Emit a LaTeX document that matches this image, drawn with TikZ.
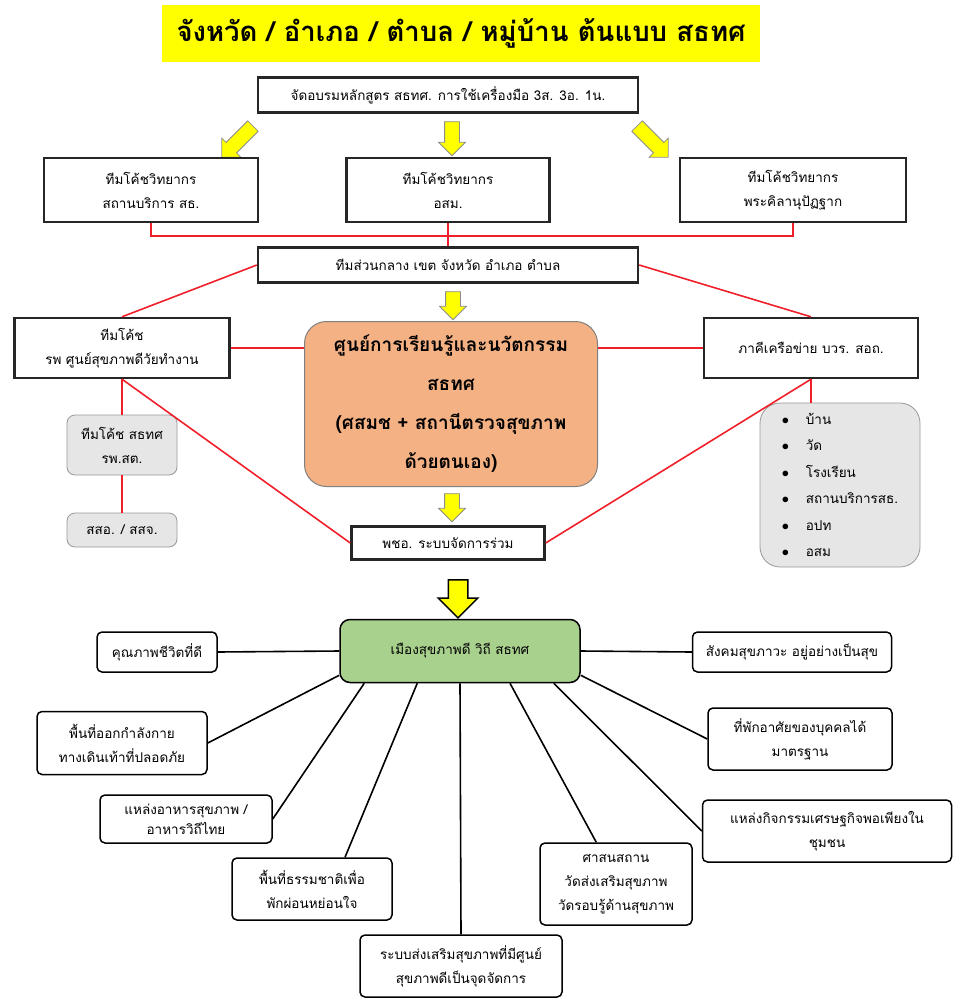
\documentclass[tikz,border=0pt]{standalone}
\usepackage{fontspec}
\setmainfont[Script=Thai]{Loma}
\usetikzlibrary{calc,shapes.arrows}

\definecolor{titleyellow}{HTML}{FFFF00}
\definecolor{centreorange}{HTML}{F4B183}
\definecolor{goalgreen}{HTML}{A9D18E}
\definecolor{softgray}{HTML}{E7E6E6}
\definecolor{linkred}{HTML}{F0202A}

\begin{document}
\begin{tikzpicture}[x=1pt,y=-1pt,
  teambox/.style={draw=black!85,line width=2.4pt,fill=white,align=center,inner sep=1pt,
    font=\fontsize{13.5}{24}\selectfont},
  softbox/.style={draw=black!40,line width=0.8pt,fill=softgray,rounded corners=8pt,
    align=center,inner sep=1pt,font=\fontsize{13.5}{24}\selectfont},
  goalbox/.style={draw=black,line width=1.5pt,fill=white,rounded corners=5pt,
    align=center,inner sep=1pt,font=\fontsize{13.5}{24}\selectfont},
  link/.style={linkred,line width=1.6pt},
  spoke/.style={black,line width=1.6pt},
  yarrow/.style={single arrow,draw=black!45,fill=titleyellow,line width=0.8pt,
    inner sep=7pt,single arrow head extend=6pt,minimum height=34pt},
]
\useasboundingbox (0,0) rectangle (961,999);

% title
\node[fill=titleyellow,minimum width=598pt,minimum height=57pt,
  font=\fontsize{27.5}{30}\selectfont\bfseries] (title) at (461,33)
  {จังหวัด / อำเภอ / ตำบล / หมู่บ้าน ต้นแบบ สธทศ};

% training and coaching teams
\node[teambox,minimum width=380pt,minimum height=35pt] (train) at (448,95)
  {จัดอบรมหลักสูตร สธทศ. การใช้เครื่องมือ 3ส. 3อ. 1น.};
\node[yarrow,rotate=-135,minimum height=44pt] (arrA) at (240,139) {};
\node[yarrow,rotate=-90] (arrB) at (452,135) {};
\node[yarrow,rotate=-45,minimum height=44pt] (arrC) at (650,139) {};
\node[teambox,minimum width=214pt,minimum height=64pt] (coachA) at (151,190)
  {ทีมโค้ชวิทยากร\\สถานบริการ สธ.};
\node[teambox,minimum width=203pt,minimum height=64pt] (coachB) at (448,190)
  {ทีมโค้ชวิทยากร\\อสม.};
\node[teambox,minimum width=226pt,minimum height=64pt] (coachC) at (793,190)
  {ทีมโค้ชวิทยากร\\พระคิลานุปัฏฐาก};
\node[teambox,minimum width=380pt,minimum height=35pt] (central) at (448,265)
  {ทีมส่วนกลาง เขต จังหวัด อำเภอ ตำบล};
\coordinate (busL) at (151,236);
\coordinate (busR) at (793,236);
\draw[link] (coachA.south) -- (busL) -- (busR) -- (coachC.south);
\draw[link] (coachB.south) -- (central.north);

% learning centre
\node[yarrow,rotate=-90,minimum height=28pt] (arrD) at (453,302) {};
\node[teambox,minimum width=215pt,minimum height=60pt] (coachL) at (122,348)
  {ทีมโค้ช\\รพ ศูนย์สุขภาพดีวัยทำงาน};
\node[draw=black!50,line width=1pt,fill=centreorange,rounded corners=22pt,
  minimum width=293pt,minimum height=165pt,align=center,
  font=\fontsize{19}{39}\selectfont\bfseries] (centre) at (451,404)
  {ศูนย์การเรียนรู้และนวัตกรรม\\สธทศ\\(ศสมช + สถานีตรวจสุขภาพ\\ด้วยตนเอง)};
\node[teambox,minimum width=214pt,minimum height=60pt] (network) at (811,348)
  {ภาคีเครือข่าย บวร. สอถ.};
\node[softbox,minimum width=110pt,minimum height=60pt] (subA) at (122,445)
  {ทีมโค้ช สธทศ\\รพ.สต.};
\node[softbox,minimum width=110pt,minimum height=34pt] (subB) at (122,530)
  {สสอ. / สสจ.};
\node[softbox,rounded corners=20pt,minimum width=160pt,minimum height=164pt,
  align=left,font=\fontsize{13.5}{26.5}\selectfont] (members) at (840,485)
  {\makebox[24pt][l]{$\bullet$}บ้าน\\
   \makebox[24pt][l]{$\bullet$}วัด\\
   \makebox[24pt][l]{$\bullet$}โรงเรียน\\
   \makebox[24pt][l]{$\bullet$}สถานบริการสธ.\\
   \makebox[24pt][l]{$\bullet$}อปท\\
   \makebox[24pt][l]{$\bullet$}อสม};
\node[yarrow,rotate=-90,minimum height=28pt] (arrE) at (452,504) {};
\node[teambox,minimum width=193pt,minimum height=33pt] (phcb) at (448,543)
  {พชอ. ระบบจัดการร่วม};
\draw[link] (central.west) -- (coachL.north);
\draw[link] (central.east) -- (network.north);
\draw[link] (coachL.east) -- (coachL.east -| centre.west);
\draw[link] (centre.east |- network.west) -- (network.west);
\draw[link] (coachL.south) -- (subA.north);
\draw[link] (subA.south) -- (subB.north);
\draw[link] (coachL.south) -- (phcb.west);
\draw[link] (network.south) -- (network.south |- members.north);
\draw[link] (network.south) -- (phcb.east);

% healthy city
\node[single arrow,draw=black,fill=titleyellow,line width=1.5pt,inner sep=9pt,
  single arrow head extend=10pt,minimum height=38pt,rotate=-90] (arrF) at (458,594) {};
\node[draw=black,line width=1.5pt,fill=goalgreen,rounded corners=10pt,
  minimum width=240pt,minimum height=63pt,font=\fontsize{13.5}{24}\selectfont] (goal)
  at (460,651) {เมืองสุขภาพดี วิถี สธทศ};
\node[goalbox,minimum width=120pt,minimum height=40pt] (gA) at (157,652)
  {คุณภาพชีวิตที่ดี};
\node[goalbox,minimum width=199pt,minimum height=40pt] (gB) at (792,652)
  {สังคมสุขภาวะ อยู่อย่างเป็นสุข};
\node[goalbox,minimum width=170pt,minimum height=63pt] (gC) at (122,743)
  {พื้นที่ออกกำลังกาย\\ทางเดินเท้าที่ปลอดภัย};
\node[goalbox,minimum width=184pt,minimum height=62pt] (gD) at (800,739)
  {ที่พักอาศัยของบุคคลได้\\มาตรฐาน};
\node[goalbox,minimum width=172pt,minimum height=48pt,
  font=\fontsize{13.5}{20}\selectfont] (gE) at (186,819)
  {แหล่งอาหารสุขภาพ /\\อาหารวิถีไทย};
\node[goalbox,minimum width=249pt,minimum height=62pt] (gF) at (827,831)
  {แหล่งกิจกรรมเศรษฐกิจพอเพียงใน\\ชุมชน};
\node[goalbox,minimum width=160pt,minimum height=62pt] (gG) at (312,889)
  {พื้นที่ธรรมชาติเพื่อ\\พักผ่อนหย่อนใจ};
\node[goalbox,minimum width=152pt,minimum height=82pt] (gH) at (616,884)
  {ศาสนสถาน\\วัดส่งเสริมสุขภาพ\\วัดรอบรู้ด้านสุขภาพ};
\node[goalbox,minimum width=202pt,minimum height=62pt] (gI) at (461,966)
  {ระบบส่งเสริมสุขภาพที่มีศูนย์\\สุขภาพดีเป็นจุดจัดการ};
\draw[spoke] (goal.west) -- (gA.east);
\draw[spoke] (goal.east) -- (gB.west);
\draw[spoke] ($(goal.south west)+(0,-8)$) -- (gC.east);
\draw[spoke] ($(goal.south west)+(25,0)$) -- (gE.east);
\draw[spoke] ($(goal.south west)+(78,0)$) -- ($(gG.north)+(33,0)$);
\draw[spoke] (goal.south) -- (gI.north);
\draw[spoke] ($(goal.south)+(50,0)$) -- ($(gH.north west)+(57,0)$);
\draw[spoke] ($(goal.south east)+(-27,0)$) -- (gF.west);
\draw[spoke] ($(goal.south east)+(0,-8)$) -- (gD.west);
\end{tikzpicture}
\end{document}
